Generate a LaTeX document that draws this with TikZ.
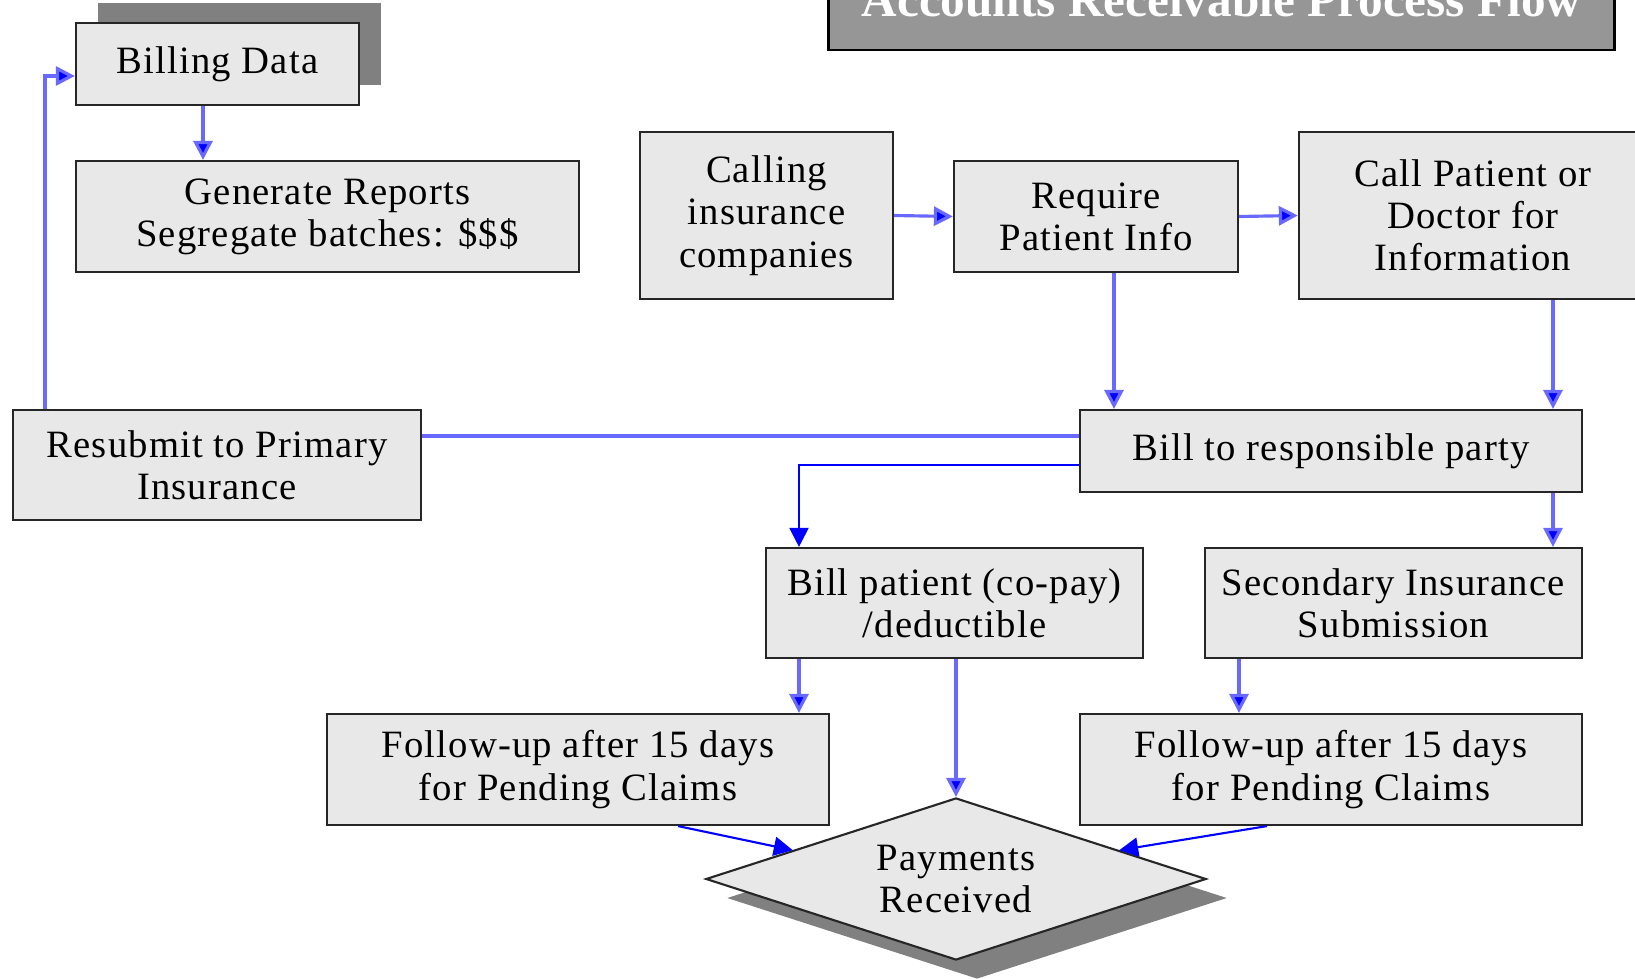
\documentclass[tikz,border=0pt]{standalone}
\usepackage{fontspec}
\setmainfont{Liberation Serif}[LetterSpace=3]
\newfontfamily\headfont{Liberation Serif}
\usetikzlibrary{shapes.geometric,arrows.meta,shadows}

\definecolor{boxgray}{RGB}{232,232,232}
\definecolor{titlegray}{RGB}{150,150,150}
\definecolor{shadegray}{RGB}{128,128,128}
\definecolor{linkblue}{RGB}{105,105,255}
\definecolor{tipblue}{RGB}{0,0,255}

\begin{document}
\begin{tikzpicture}[x=0.01cm,y=-0.01cm,
	box/.style={draw=black!85,line width=0.6pt,fill=boxgray,align=center,inner sep=0pt,
		font=\fontsize{11}{12}\selectfont},
	link/.style={draw=linkblue,line width=0.9pt},
	flow/.style={link,-{Triangle[width=5.4pt,length=5.4pt,fill=tipblue]}},
	flowthin/.style={draw=tipblue,line width=0.6pt,-{Triangle[width=5.4pt,length=5.4pt,fill=tipblue]}}]
	
	\path[use as bounding box] (0,0) rectangle (1635,979);
	\clip (0,0) rectangle (1635,979);
	
	\node[draw=black,line width=0.8pt,fill=titlegray,minimum width=7.85cm,minimum height=1cm,
		text=white,font=\headfont\fontsize{14}{16}\bfseries\selectfont] (title) at (1221.5,0) {Accounts Receivable Process Flow};
	
	\node[box,minimum width=2.83cm,minimum height=0.82cm,
		drop shadow={shadow xshift=0.22cm,shadow yshift=0.2cm,fill=shadegray,opacity=1}] (bd) at (217.5,64) {Billing Data};
	\node[box,minimum width=5.03cm,minimum height=1.11cm] (gr) at (327.5,216.5) {Generate Reports\\Segregate batches: \$\$\$};
	\node[box,minimum width=2.53cm,minimum height=1.67cm] (call) at (766.5,215.5) {Calling\\insurance\\companies};
	\node[box,minimum width=2.84cm,minimum height=1.11cm] (req) at (1096,216.5) {Require\\Patient Info};
	\node[box,minimum width=3.48cm,minimum height=1.67cm] (cp) at (1473,215.5) {Call Patient or\\Doctor for\\Information};
	\node[box,minimum width=4.08cm,minimum height=1.1cm] (rs) at (217,465) {Resubmit to Primary\\Insurance};
	\node[box,minimum width=5.02cm,minimum height=0.82cm] (resp) at (1331,451) {Bill to responsible party};
	\node[box,minimum width=3.77cm,minimum height=1.1cm] (bp) at (954.5,603) {Bill patient (co-pay)\\/deductible};
	\node[box,minimum width=3.77cm,minimum height=1.1cm] (sec) at (1393.5,603) {Secondary Insurance\\Submission};
	\node[box,minimum width=5.02cm,minimum height=1.11cm] (fuL) at (578,769.5) {Follow-up after 15 days\\for Pending Claims};
	\node[box,minimum width=5.02cm,minimum height=1.11cm] (fuR) at (1331,769.5) {Follow-up after 15 days\\for Pending Claims};
	\node[box,shape=diamond,aspect=3.09,minimum width=5cm,minimum height=1.62cm,
		drop shadow={shadow xshift=0.21cm,shadow yshift=-0.19cm,fill=shadegray,opacity=1}] (pay) at (956,879) {Payments\\Received};
	
	% columns and rows of the connectors
	\coordinate (cRS) at (45,0);
	\coordinate (cBD) at (203,0);
	\coordinate (cBP) at (799,0);
	\coordinate (cRQ) at (1114,0);
	\coordinate (cSC) at (1239,0);
	\coordinate (cCP) at (1553,0);
	\coordinate (rA) at (0,436);
	\coordinate (rB) at (0,465);
	
	\draw[flow] (bd.south -| cBD) -- (gr.north -| cBD);
	\draw[flow] (rs.north -| cRS) |- ([yshift=-0.12cm]bd.west);
	\draw[flow] (call.east) -- (req.west);
	\draw[flow] (req.east) -- (cp.west);
	\draw[flow] (req.south -| cRQ) -- (resp.north -| cRQ);
	\draw[flow] (cp.south -| cCP) -- (resp.north -| cCP);
	\draw[link] (rs.east |- rA) -- (resp.west |- rA);
	\draw[flowthin] (resp.west |- rB) -| (bp.north -| cBP);
	\draw[flow] (resp.south -| cCP) -- (sec.north -| cCP);
	\draw[flow] (bp.south -| cBP) -- (fuL.north -| cBP);
	\draw[flow] (bp.south -| pay.north) -- (pay.north);
	\draw[flow] (sec.south -| cSC) -- (fuR.north -| cSC);
	\draw[flowthin] ([xshift=1cm]fuL.south) -- (pay.170);
	\draw[flowthin] ([xshift=-0.64cm]fuR.south) -- (pay.10);
	
\end{tikzpicture}
\end{document}
